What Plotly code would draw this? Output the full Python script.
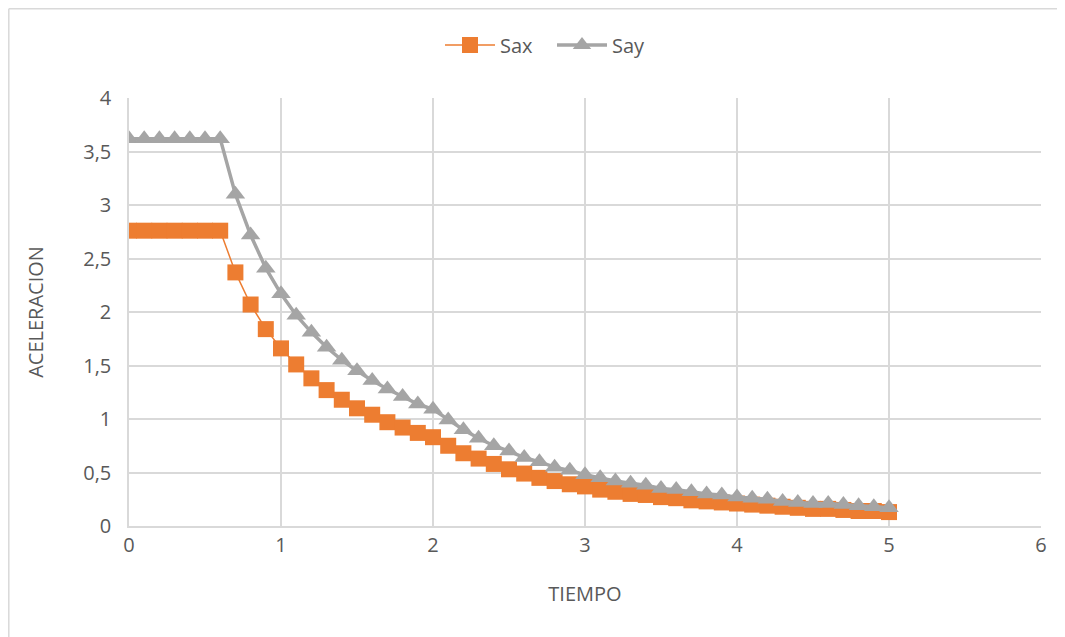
import plotly.graph_objects as go

tiempo = [0.0, 0.1, 0.2, 0.3, 0.4, 0.5, 0.6, 0.7, 0.8, 0.9,
          1.0, 1.1, 1.2, 1.3, 1.4, 1.5, 1.6, 1.7, 1.8, 1.9,
          2.0, 2.1, 2.2, 2.3, 2.4, 2.5, 2.6, 2.7, 2.8, 2.9,
          3.0, 3.1, 3.2, 3.3, 3.4, 3.5, 3.6, 3.7, 3.8, 3.9,
          4.0, 4.1, 4.2, 4.3, 4.4, 4.5, 4.6, 4.7, 4.8, 4.9, 5.0]

sax = [2.76, 2.76, 2.76, 2.76, 2.76, 2.76, 2.76, 2.37, 2.07, 1.84,
       1.66, 1.51, 1.38, 1.27, 1.18, 1.10, 1.04, 0.97, 0.92, 0.87,
       0.83, 0.75, 0.68, 0.63, 0.58, 0.53, 0.49, 0.45, 0.42, 0.39,
       0.37, 0.34, 0.32, 0.30, 0.29, 0.27, 0.26, 0.24, 0.23, 0.22,
       0.21, 0.20, 0.19, 0.18, 0.17, 0.16, 0.16, 0.15, 0.14, 0.14, 0.13]

say = [3.62, 3.62, 3.62, 3.62, 3.62, 3.62, 3.62, 3.10, 2.72, 2.41,
       2.17, 1.97, 1.81, 1.67, 1.55, 1.45, 1.36, 1.28, 1.21, 1.14,
       1.09, 0.99, 0.90, 0.82, 0.75, 0.70, 0.64, 0.60, 0.55, 0.52,
       0.48, 0.45, 0.42, 0.40, 0.38, 0.35, 0.34, 0.32, 0.30, 0.29,
       0.27, 0.26, 0.25, 0.23, 0.22, 0.21, 0.21, 0.20, 0.19, 0.18, 0.17]

x_ticks = [0, 1, 2, 3, 4, 5, 6]
y_ticks = [0, 0.5, 1, 1.5, 2, 2.5, 3, 3.5, 4]

ORANGE = "#ED7D31"
GRAY = "#A5A5A5"
TEXT = "#595959"
GRID = "#D9D9D9"

fig = go.Figure()
fig.add_trace(go.Scatter(
    x=tiempo, y=sax, name="Sax", mode="lines+markers",
    line=dict(color=ORANGE, width=1.5),
    marker=dict(symbol="square", size=16, color=ORANGE),
))
fig.add_trace(go.Scatter(
    x=tiempo, y=say, name="Say", mode="lines+markers",
    line=dict(color=GRAY, width=3.5),
    marker=dict(symbol="triangle-up", size=17, color=GRAY),
))

font_family = "Open Sans, Liberation Sans, sans-serif"

# page body has an 8px margin; figure is sized to fit the window
W, H = 1057, 629
ML, MR, MT, MB = 121, 24, 90, 111
pw = W - ML - MR
ph = H - MT - MB

fig.update_layout(
    width=W, height=H,
    margin=dict(l=ML, r=MR, t=MT, b=MB, autoexpand=False),
    paper_bgcolor="white", plot_bgcolor="white",
    separators=",.",
    font=dict(family=font_family, size=20, color=TEXT),
    showlegend=True,
    legend=dict(orientation="h", x=(440 - 129) / pw, xanchor="left",
                y=(518 - 37) / ph, yanchor="middle",
                itemwidth=50, entrywidth=47, entrywidthmode="pixels",
                font=dict(size=20, color=TEXT), traceorder="normal"),
    xaxis=dict(range=[0, 6], tickvals=x_ticks, showgrid=True, gridcolor=GRID, gridwidth=1.5,
               zeroline=False, showline=True, linecolor=GRID, linewidth=1.5,
               ticks="", tickfont=dict(size=20, color=TEXT), automargin=False,
               title=dict(text="TIEMPO", font=dict(size=20, color=TEXT), standoff=30)),
    yaxis=dict(range=[0, 4], tickvals=y_ticks, showgrid=True, gridcolor=GRID, gridwidth=1.5,
               zeroline=False, showline=True, linecolor=GRID, linewidth=1.5,
               ticks="", tickfont=dict(size=20, color=TEXT), ticklabelstandoff=12,
               automargin=False,
               title=dict(text="ACELERACION", font=dict(size=20, color=TEXT), standoff=34)),
)

# chart border (Excel-like frame) along the top and left edges of the figure
left = (0.8 - ML) / pw
top = (H - MB - 0.8) / ph
fig.add_shape(type="line", xref="paper", yref="paper", x0=left, y0=top, x1=(W - ML - 0) / pw, y1=top,
              line=dict(color=GRID, width=1.5))
fig.add_shape(type="line", xref="paper", yref="paper", x0=left, y0=top, x1=left, y1=-MB / ph,
              line=dict(color=GRID, width=1.5))

fig.write_html("out.html")
